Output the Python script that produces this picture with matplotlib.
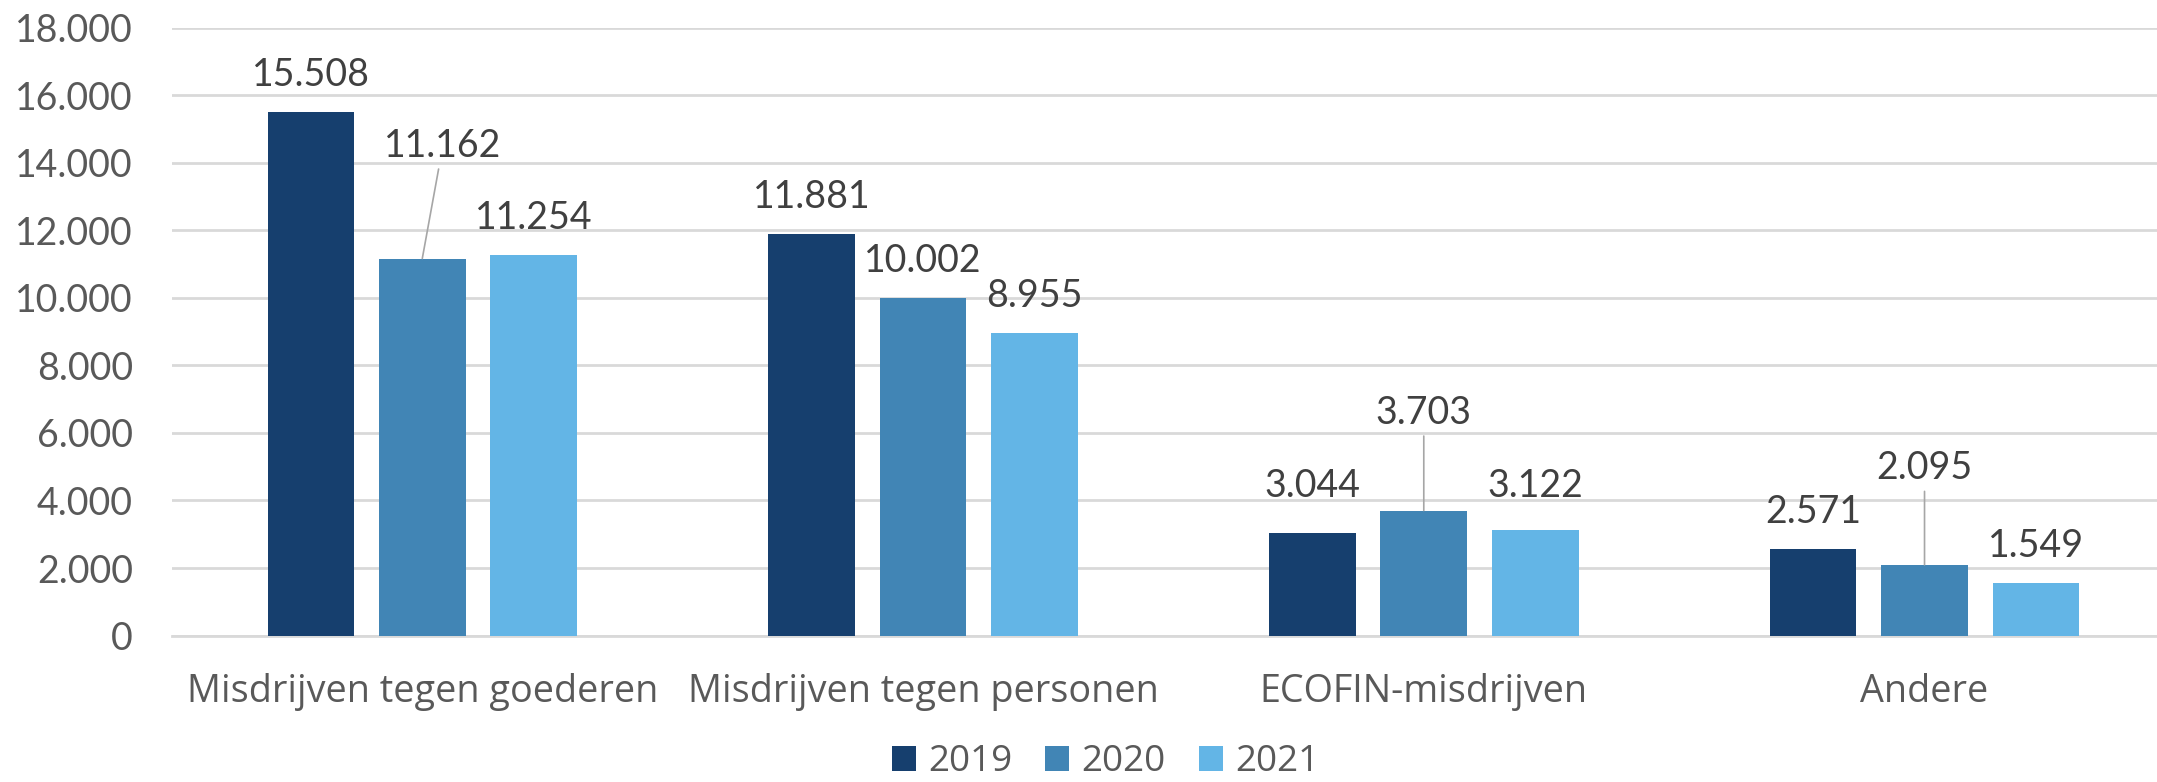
import matplotlib
matplotlib.use("Agg")
import matplotlib.pyplot as plt
import numpy as np
from matplotlib.ticker import FuncFormatter

categories = ["Misdrijven tegen goederen", "Misdrijven tegen personen", "ECOFIN-misdrijven", "Andere"]
series_names = ["2019", "2020", "2021"]
values_2019 = [15508, 11881, 3044, 2571]
values_2020 = [11162, 10002, 3703, 2095]
values_2021 = [11254, 8955, 3122, 1549]
yticks = [0, 2000, 4000, 6000, 8000, 10000, 12000, 14000, 16000, 18000]

series_values = [values_2019, values_2020, values_2021]
colors = ["#163F6E", "#4185B5", "#63B5E6"]

plt.rcParams['font.family'] = ['Lato', 'DejaVu Sans']
FS = 27
FS2 = 27.2

fig = plt.figure(figsize=(21.57, 7.82), dpi=100)
ax = fig.add_axes([0.0797, 0.1872, 0.9286, 0.7776])

def fmt(v):
    return f"{int(v):,}".replace(",", ".")

x = np.arange(len(categories))
step = 0.2225
width = 0.173
px2pt = 0.72
# custom label offsets (dx, dy in pixels) for (series index, category index)
custom = {(1, 0): (20.6, 113), (0, 2): (0, 47), (2, 2): (0, 44), (1, 2): (0, 98), (1, 3): (0, 97)}
leader = {(1, 0), (1, 2), (1, 3)}

for i, (name, vals) in enumerate(zip(series_names, series_values)):
    xs = x + (i - 1) * step
    ax.bar(xs, vals, width=width, color=colors[i], label=name, zorder=3)
    for j, (xx, v) in enumerate(zip(xs, vals)):
        dx, dy = custom.get((i, j), (0, 37))
        kw = {}
        if (i, j) in leader:
            kw['arrowprops'] = dict(arrowstyle='-', color='#A6A6A6', lw=1.2, shrinkA=2, shrinkB=0)
        ax.annotate(fmt(v), xy=(xx, v), xytext=(dx * px2pt, dy * px2pt), textcoords='offset points',
                    ha='center', va='center', fontsize=FS, color='#404040', **kw)

ax.set_xlim(-0.5, len(categories) - 0.5)
ax.set_ylim(0, 18000)
ax.set_yticks(yticks)
ax.yaxis.set_major_formatter(FuncFormatter(lambda v, p: fmt(v)))
ax.set_xticks(x)
ax.set_xticklabels(categories, fontfamily=['Open Sans', 'DejaVu Sans'], fontsize=FS2)
ax.tick_params(axis='y', length=0, pad=28, labelsize=FS, labelcolor='#595959')
ax.tick_params(axis='x', length=0, pad=27, labelcolor='#595959')
ax.grid(axis='y', color='#D9D9D9', linewidth=2, zorder=0)
ax.set_axisbelow(True)
for s in ['top', 'right', 'left']:
    ax.spines[s].set_visible(False)
ax.spines['bottom'].set_color('#D9D9D9')
ax.spines['bottom'].set_linewidth(2)

leg = fig.legend(loc='center', bbox_to_anchor=(0.5125, 0.025), ncol=3, frameon=False,
                 prop={'family': ['Open Sans', 'DejaVu Sans'], 'size': 26.5},
                 handlelength=0.65, handleheight=0.65, handletextpad=0.33,
                 columnspacing=0.9, labelcolor='#595959', borderpad=0.1)

fig.savefig("out.png", dpi=100)
